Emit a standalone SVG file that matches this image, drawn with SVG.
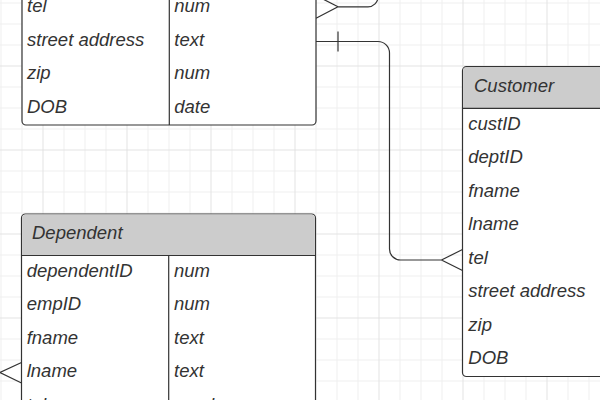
<svg xmlns="http://www.w3.org/2000/svg" width="600" height="400" viewBox="0 0 600 400">
<style>
.t{font-family:"Liberation Sans",Arial,sans-serif;font-style:italic;font-size:18.5px;fill:#333}
.box{fill:#fff;stroke:#333;stroke-width:1.2}
.hdr{fill:#ccc}
.ln{fill:none;stroke:#333;stroke-width:1.2}
</style>
<defs>
<pattern id="grid" patternUnits="userSpaceOnUse" x="42.5" y="65.5" width="84" height="84">
<rect x="0" y="0" width="84" height="84" fill="#fff"/>
<g fill="#efefef">
<rect x="21" y="0" width="1" height="84"/><rect x="42" y="0" width="1" height="84"/><rect x="63" y="0" width="1" height="84"/>
<rect x="0" y="21" width="84" height="1"/><rect x="0" y="42" width="84" height="1"/><rect x="0" y="63" width="84" height="1"/>
</g>
<g fill="#e2e2e2">
<rect x="0" y="0" width="1" height="84"/><rect x="0" y="0" width="84" height="1"/>
</g>
</pattern>
</defs>
<rect x="0" y="0" width="600" height="400" fill="url(#grid)"/>

<g id="connectors">
<path class="ln" d="M316,-4.5 L338,6.8 L316,18.3 M338,6.8 H368 A10,10 0 0 0 378,-3.2 V-20"/>
<path class="ln" d="M316,41.5 H378 A11.5,11.5 0 0 1 389.5,53 V249 A11,11 0 0 0 400.5,260 H441.5 M462.5,249.5 L441.5,260 L462.5,270.5 M338,31.5 V51.5"/>
<path class="ln" d="M21.5,362.5 L0,372.5 L21.5,383 M0,372.5 H-20"/>
</g>

<g id="employee">
<path class="box" d="M22,-60 H316 V121 A4,4 0 0 1 312,125 H26 A4,4 0 0 1 22,121 Z"/>
<line class="ln" x1="169.3" y1="-9" x2="169.3" y2="125"/>
<text class="t" x="27" y="12">tel</text><text class="t" x="174.3" y="12">num</text>
<text class="t" x="27" y="45.5">street address</text><text class="t" x="174.3" y="45.5">text</text>
<text class="t" x="27" y="79">zip</text><text class="t" x="174.3" y="79">num</text>
<text class="t" x="27" y="112.5">DOB</text><text class="t" x="174.3" y="112.5">date</text>
</g>

<g id="dependent">
<path class="box" d="M25.5,214 H311.5 A4,4 0 0 1 315.5,218 V440 H21.5 V218 A4,4 0 0 1 25.5,214 Z"/>
<path class="hdr" d="M26,214.6 H311 A3.4,3.4 0 0 1 314.9,218 V255.5 H22.1 V218 A3.4,3.4 0 0 1 26,214.6 Z"/>
<line class="ln" x1="21.5" y1="255.5" x2="315.5" y2="255.5"/>
<line class="ln" x1="168.7" y1="255.5" x2="168.7" y2="440"/>
<text class="t" x="32" y="239">Dependent</text>
<text class="t" x="26.7" y="276.8">dependentID</text><text class="t" x="174" y="276.8">num</text>
<text class="t" x="26.7" y="310.3">empID</text><text class="t" x="174" y="310.3">num</text>
<text class="t" x="26.7" y="343.8">fname</text><text class="t" x="174" y="343.8">text</text>
<text class="t" x="26.7" y="377.3">lname</text><text class="t" x="174" y="377.3">text</text>
<text class="t" x="26.7" y="410.8">tel</text><text class="t" x="174" y="410.8">number</text>
</g>

<g id="customer">
<path class="box" d="M466.5,66.7 H760 V376.5 H466.5 A4,4 0 0 1 462.5,372.5 V70.7 A4,4 0 0 1 466.5,66.7 Z"/>
<path class="hdr" d="M466.5,67.3 H760 V108.3 H463.1 V70.7 A3.4,3.4 0 0 1 466.5,67.3 Z"/>
<line class="ln" x1="462.5" y1="108.3" x2="620" y2="108.3"/>
<text class="t" x="474" y="91.7">Customer</text>
<text class="t" x="468.3" y="129.7">custID</text>
<text class="t" x="468.3" y="163.2">deptID</text>
<text class="t" x="468.3" y="196.7">fname</text>
<text class="t" x="468.3" y="230.2">lname</text>
<text class="t" x="468.3" y="263.7">tel</text>
<text class="t" x="468.3" y="297.2">street address</text>
<text class="t" x="468.3" y="330.7">zip</text>
<text class="t" x="468.3" y="364.2">DOB</text>
</g>
</svg>
